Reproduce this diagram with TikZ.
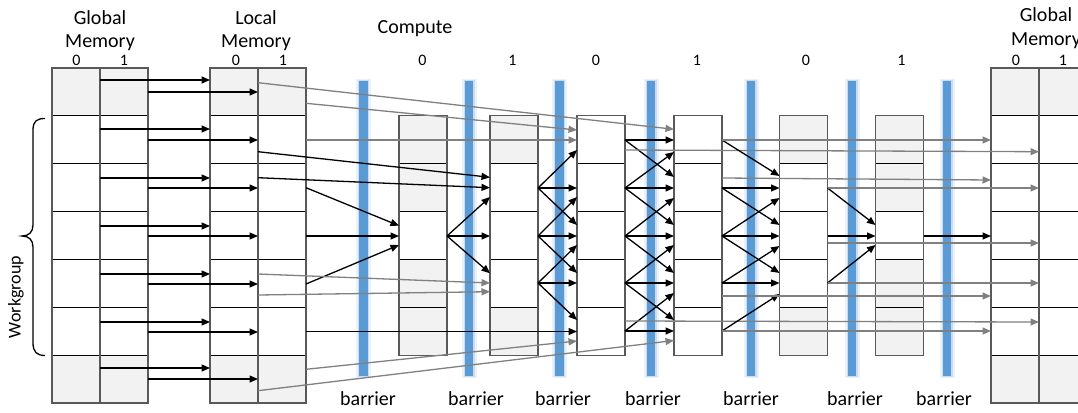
\documentclass[tikz,border=0pt]{standalone}
\usepackage{fontspec}
\setmainfont{Carlito}
\usetikzlibrary{arrows.meta}
\definecolor{cellgray}{HTML}{F2F2F2}
\definecolor{boxline}{HTML}{595959}
\definecolor{arrgray}{HTML}{808080}
\definecolor{barblue}{HTML}{5B9BD5}
\definecolor{barglow}{HTML}{EAF1F9}
\definecolor{barglowb}{HTML}{C9DCF0}
\begin{document}
\begin{tikzpicture}[x=1pt,y=-1pt,
  blk/.style={draw=black,line width=1.3pt,-{Triangle[length=8.5pt,width=7pt]}},
  gry/.style={draw=arrgray,line width=1.3pt,-{Triangle[length=8.5pt,width=7pt]}},
  inner/.style={draw=black,line width=1.2pt},
  colbox/.style={draw=boxline,line width=1.2pt,inner sep=0pt,outer sep=0pt,anchor=north west,minimum width=48pt},
  memcol/.style={colbox,minimum height=334.95pt},
  cmpcol/.style={colbox,minimum height=239.25pt},
  lbl/.style={font=\fontsize{20}{24}\selectfont,anchor=base,inner sep=0pt},
  idx/.style={font=\fontsize{16}{19}\selectfont,anchor=base,inner sep=0pt},
  brace/.style={draw=black,line width=1.3pt}
]
\useasboundingbox (0,0) rectangle (1078,412);
\clip (0,0) rectangle (1078,412);

% ---------- barriers ----------
\foreach \x in {363.5,469,559.5,651,751,852,947} {
  \fill[barglow] (\x-7.5,79) rectangle (\x+7.5,378);
  \fill[barglowb] (\x-5.5,80) rectangle (\x+5.5,377);
  \fill[barblue] (\x-4.2,81) rectangle (\x+4.2,376);
}

% ---------- shaded cells ----------
\fill[cellgray] (52,68) rectangle (148,115.85);
\fill[cellgray] (52,355.1) rectangle (148,402.95);
\fill[cellgray] (210,68) rectangle (306,115.85);
\fill[cellgray] (210,355.1) rectangle (306,402.95);
\fill[cellgray] (991,68) rectangle (1087,115.85);
\fill[cellgray] (991,355.1) rectangle (1087,402.95);
\fill[cellgray] (399,115.85) rectangle (447,211.55);
\fill[cellgray] (399,259.4) rectangle (447,355.1);
\fill[cellgray] (490,115.85) rectangle (538,163.7);
\fill[cellgray] (490,307.25) rectangle (538,355.1);
\fill[cellgray] (779.5,115.85) rectangle (827.5,163.7);
\fill[cellgray] (779.5,307.25) rectangle (827.5,355.1);
\fill[cellgray] (875.5,115.85) rectangle (923.5,211.55);
\fill[cellgray] (875.5,259.4) rectangle (923.5,355.1);

% ---------- grid lines ----------
\foreach \y in {115.85,163.7,211.55,259.4,307.25,355.1} {
  \draw[inner] (52,\y) -- (148,\y);
  \draw[inner] (210,\y) -- (306,\y);
  \draw[inner] (991,\y) -- (1087,\y);
}
\draw[inner] (100,68) -- (100,402.95);
\draw[inner] (258,68) -- (258,402.95);
\draw[inner] (1039,68) -- (1039,402.95);
\foreach \x in {399,490,577,674,779.5,875.5} {
  \foreach \y in {163.7,211.55,259.4,307.25} {
    \draw[inner] (\x,\y) -- (\x+48,\y);
  }
}

% ---------- columns (named) ----------
\node[memcol] (GL0) at (52,68) {};
\node[memcol] (GL1) at (100,68) {};
\node[memcol] (LM0) at (210,68) {};
\node[memcol] (LM1) at (258,68) {};
\node[memcol] (GR0) at (991,68) {};
\node[memcol] (GR1) at (1039,68) {};
\node[cmpcol] (C1) at (399,115.85) {};
\node[cmpcol] (C2) at (490,115.85) {};
\node[cmpcol] (C3) at (577,115.85) {};
\node[cmpcol] (C4) at (674,115.85) {};
\node[cmpcol] (C5) at (779.5,115.85) {};
\node[cmpcol] (C6) at (875.5,115.85) {};

% ---------- labels ----------
\node[lbl] (tGL1) at (100,24.5) {Global};
\node[lbl] (tGL2) at (100,48) {Memory};
\node[lbl] (tLM1) at (256,24.5) {Local};
\node[lbl] (tLM2) at (256,48) {Memory};
\node[lbl] (tCP) at (415,34) {Compute};
\node[lbl] (tGR1) at (1046,22) {Global};
\node[lbl] (tGR2) at (1046,46) {Memory};
\node[idx] (iGL0) at (76.5,65.5) {0};
\node[idx] (iGL1) at (124,65.5) {1};
\node[idx] (iLM0) at (236,65.5) {0};
\node[idx] (iLM1) at (283,65.5) {1};
\node[idx] (iC1) at (422.5,65.5) {0};
\node[idx] (iC2) at (512.5,65.5) {1};
\node[idx] (iC3) at (596,65.5) {0};
\node[idx] (iC4) at (697,65.5) {1};
\node[idx] (iC5) at (806,65.5) {0};
\node[idx] (iC6) at (901.5,65.5) {1};
\node[idx] (iGR0) at (1016,65.5) {0};
\node[idx] (iGR1) at (1063,65.5) {1};
\foreach \x [count=\i] in {368,476,563,653,751,855,944} {
  \node[lbl] (tb\i) at (\x,405) {barrier};
}
\node[font=\fontsize{18}{21}\selectfont,rotate=90,inner sep=0pt] (tWG) at (16,297) {Workgroup};
\draw[brace] (45,118.5) .. controls (37,118.5) and (33,121) .. (33,130) -- (33,225)
  .. controls (33,232) and (29,236) .. (22,236)
  .. controls (29,236) and (33,240) .. (33,247) -- (33,343)
  .. controls (33,352) and (37,355.5) .. (45,355.5);

% ---------- global -> local ----------
\foreach \a/\b in {80/92,129/140,178/188,226/236,274/284,322/332,368/379} {
  \draw[blk] (GL1.west |- 0,\a) -- (LM0.west |- 0,\a);
  \draw[blk] (GL1.east |- 0,\b) -- (LM1.west |- 0,\b);
}

% ---------- local -> compute ----------
\draw[gry] (LM0.east |- 0,82.7) -- (C4.west |- 0,129.3);
\draw[gry] (LM1.east |- 0,103.3) -- (C3.west |- 0,130);
\draw[gry] (LM1.east |- 0,140) -- (C3.west |- 0,140);
\draw[blk] (LM0.east |- 0,151.7) -- (C2.west |- 0,177.3);
\draw[blk] (LM0.east |- 0,177.7) -- (C2.west |- 0,187.7);
\draw[blk] (LM1.east |- 0,187.7) -- (C1.west |- 0,225.7);
\draw[blk] (LM1.east |- 0,236) -- (C1.west |- 0,236);
\draw[blk] (LM1.east |- 0,284) -- (C1.west |- 0,245);
\draw[gry] (LM0.east |- 0,274) -- (C2.west |- 0,283);
\draw[gry] (LM0.east |- 0,295) -- (C2.west |- 0,291.7);
\draw[blk] (LM1.east |- 0,331.5) -- (C3.west |- 0,331.5);
\draw[gry] (LM1.east |- 0,369.3) -- (C3.west |- 0,341);
\draw[gry] (LM0.east |- 0,390.7) -- (C4.west |- 0,340.5);

% ---------- C1 -> C2 ----------
\foreach \t in {197,236,273.3} { \draw[blk] (C1.east |- 0,236) -- (C2.west |- 0,\t); }

% ---------- C2 -> C3 ----------
\foreach \s/\t in {188/150,188/188,188/225,236/197,236/236,236/273,283/245,283/283,283/320} {
  \draw[blk] (C2.east |- 0,\s) -- (C3.west |- 0,\t);
}

% ---------- C3 -> C4 ----------
\foreach \s/\t in {140/140,140/177,188/152,188/188,188/225,236/198,236/236,236/273,283/245,283/283,283/320,331/293,331/331} {
  \draw[blk] (C3.east |- 0,\s) -- (C4.west |- 0,\t);
}
\draw[gry] (C3.east |- 0,150) -- (GR1.west |- 0,151.7);
\draw[gry] (C3.east |- 0,321) -- (GR1.west |- 0,322);

% ---------- C4 -> C5 ----------
\foreach \s/\t in {140/176,188/188,188/225,236/198,236/236,236/273,283/246,283/283,331/294} {
  \draw[blk] (C4.east |- 0,\s) -- (C5.west |- 0,\t);
}
\draw[gry] (C4.east |- 0,140) -- (GR0.west |- 0,140);
\draw[gry] (C4.east |- 0,178) -- (GR0.west |- 0,180);
\draw[gry] (C4.east |- 0,296) -- (GR0.west |- 0,296);
\draw[gry] (C4.east |- 0,331) -- (GR0.west |- 0,331);

% ---------- C5 -> C6 / global ----------
\draw[blk] (C5.east |- 0,188) -- (C6.west |- 0,225);
\draw[blk] (C5.east |- 0,236) -- (C6.west |- 0,236);
\draw[blk] (C5.east |- 0,283) -- (C6.west |- 0,245);
\draw[gry] (C5.east |- 0,188) -- (GR1.west |- 0,188);
\draw[gry] (C5.east |- 0,243) -- (GR1.west |- 0,243);
\draw[gry] (C5.east |- 0,283) -- (GR1.west |- 0,283);

% ---------- C6 -> global ----------
\draw[blk] (C6.east |- 0,236) -- (GR0.west |- 0,236);
\end{tikzpicture}
\end{document}
